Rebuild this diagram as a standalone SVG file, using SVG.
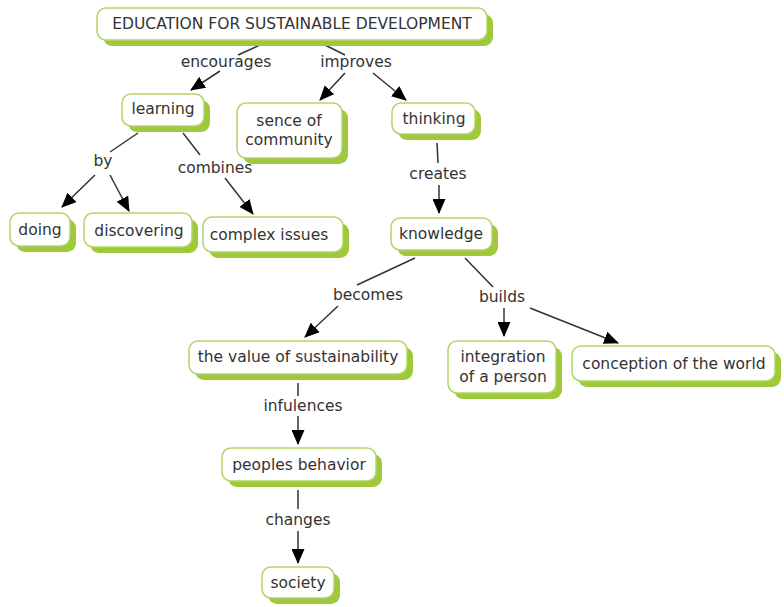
<svg xmlns="http://www.w3.org/2000/svg" width="784" height="607" viewBox="0 0 784 607">
<defs>
<style>
.sh{fill:#9dc93b}
.bx{fill:#fff;stroke:#b5d36a;stroke-width:1.5}
text{font-family:"DejaVu Sans",Verdana,sans-serif;font-size:15.5px;fill:#333;text-anchor:middle;dominant-baseline:central}
.ln{stroke:#333;stroke-width:1.5;fill:none}
.ar{marker-end:url(#ah)}
</style>
<marker id="ah" markerUnits="userSpaceOnUse" markerWidth="15" markerHeight="13" refX="14" refY="6.5" orient="auto">
<path d="M0,0 L15,6.5 L0,13 Z" fill="#000"/>
</marker>
</defs>
<rect width="784" height="607" fill="#fff"/>
<g id="connectors">
<line class="ln" x1="260" y1="45" x2="238" y2="55"/>
<line class="ln ar" x1="220" y1="71" x2="191" y2="90"/>
<line class="ln" x1="325" y1="45" x2="345" y2="55"/>
<line class="ln ar" x1="345" y1="73" x2="320" y2="100"/>
<line class="ln ar" x1="373" y1="73" x2="406" y2="100"/>
<line class="ln" x1="138" y1="133" x2="110" y2="152"/>
<line class="ln ar" x1="95" y1="175" x2="62" y2="207"/>
<line class="ln ar" x1="110" y1="175" x2="129" y2="211"/>
<line class="ln" x1="183" y1="133" x2="200" y2="155"/>
<line class="ln ar" x1="225" y1="178" x2="253" y2="214"/>
<line class="ln" x1="437" y1="143" x2="438" y2="163"/>
<line class="ln ar" x1="439" y1="185" x2="439" y2="213"/>
<line class="ln" x1="415" y1="258" x2="357" y2="285"/>
<line class="ln ar" x1="338" y1="306" x2="305" y2="337"/>
<line class="ln" x1="465" y1="258" x2="493" y2="287"/>
<line class="ln ar" x1="504" y1="308" x2="504" y2="336"/>
<line class="ln ar" x1="530" y1="308" x2="618" y2="343"/>
<line class="ln" x1="298" y1="383" x2="298" y2="396"/>
<line class="ln ar" x1="298" y1="416" x2="298" y2="444"/>
<line class="ln" x1="298" y1="490" x2="298" y2="509"/>
<line class="ln ar" x1="298" y1="531" x2="298" y2="563"/>
</g>
<g id="link-labels">
<text x="226" y="62">encourages</text>
<text x="356" y="62">improves</text>
<text x="103" y="161">by</text>
<text x="215" y="168">combines</text>
<text x="438" y="174">creates</text>
<text x="368" y="295">becomes</text>
<text x="502" y="297">builds</text>
<text x="303" y="406">infulences</text>
<text x="298" y="520">changes</text>
</g>
<g id="n-esd"><rect class="sh" x="103" y="14" width="390" height="32" rx="9"/><rect class="bx" x="97" y="8" width="390" height="32" rx="9"/><text x="292" y="24">EDUCATION FOR SUSTAINABLE DEVELOPMENT</text></g>
<g id="n-learning"><rect class="sh" x="128" y="100" width="82" height="32" rx="9"/><rect class="bx" x="122" y="94" width="82" height="32" rx="9"/><text x="163" y="109">learning</text></g>
<g id="n-sence"><rect class="sh" x="243" y="109" width="105" height="55" rx="9"/><rect class="bx" x="237" y="103" width="105" height="55" rx="9"/><text x="289" y="121">sence of</text><text x="289" y="140">community</text></g>
<g id="n-thinking"><rect class="sh" x="398" y="109" width="83" height="31" rx="9"/><rect class="bx" x="392" y="103" width="83" height="31" rx="9"/><text x="434" y="119">thinking</text></g>
<g id="n-doing"><rect class="sh" x="16" y="219" width="60" height="33" rx="9"/><rect class="bx" x="10" y="213" width="60" height="33" rx="9"/><text x="40" y="230">doing</text></g>
<g id="n-discovering"><rect class="sh" x="90" y="219" width="108" height="34" rx="9"/><rect class="bx" x="84" y="213" width="108" height="34" rx="9"/><text x="139" y="231">discovering</text></g>
<g id="n-complex"><rect class="sh" x="209" y="223" width="140" height="35" rx="9"/><rect class="bx" x="203" y="217" width="140" height="35" rx="9"/><text x="269" y="235">complex issues</text></g>
<g id="n-knowledge"><rect class="sh" x="397" y="224" width="101" height="32" rx="9"/><rect class="bx" x="391" y="218" width="101" height="32" rx="9"/><text x="441" y="234">knowledge</text></g>
<g id="n-value"><rect class="sh" x="195" y="347" width="218" height="33" rx="9"/><rect class="bx" x="189" y="341" width="218" height="33" rx="9"/><text x="298" y="357">the value of sustainability</text></g>
<g id="n-integration"><rect class="sh" x="454" y="347" width="108" height="52" rx="9"/><rect class="bx" x="448" y="341" width="108" height="52" rx="9"/><text x="503" y="357">integration</text><text x="503" y="377">of a person</text></g>
<g id="n-conception"><rect class="sh" x="578" y="352" width="203" height="35" rx="9"/><rect class="bx" x="572" y="346" width="203" height="35" rx="9"/><text x="674" y="364">conception of the world</text></g>
<g id="n-peoples"><rect class="sh" x="228" y="454" width="154" height="33" rx="9"/><rect class="bx" x="222" y="448" width="154" height="33" rx="9"/><text x="299" y="465">peoples behavior</text></g>
<g id="n-society"><rect class="sh" x="268" y="573" width="72" height="31" rx="9"/><rect class="bx" x="262" y="567" width="72" height="31" rx="9"/><text x="298" y="583">society</text></g>
</svg>
